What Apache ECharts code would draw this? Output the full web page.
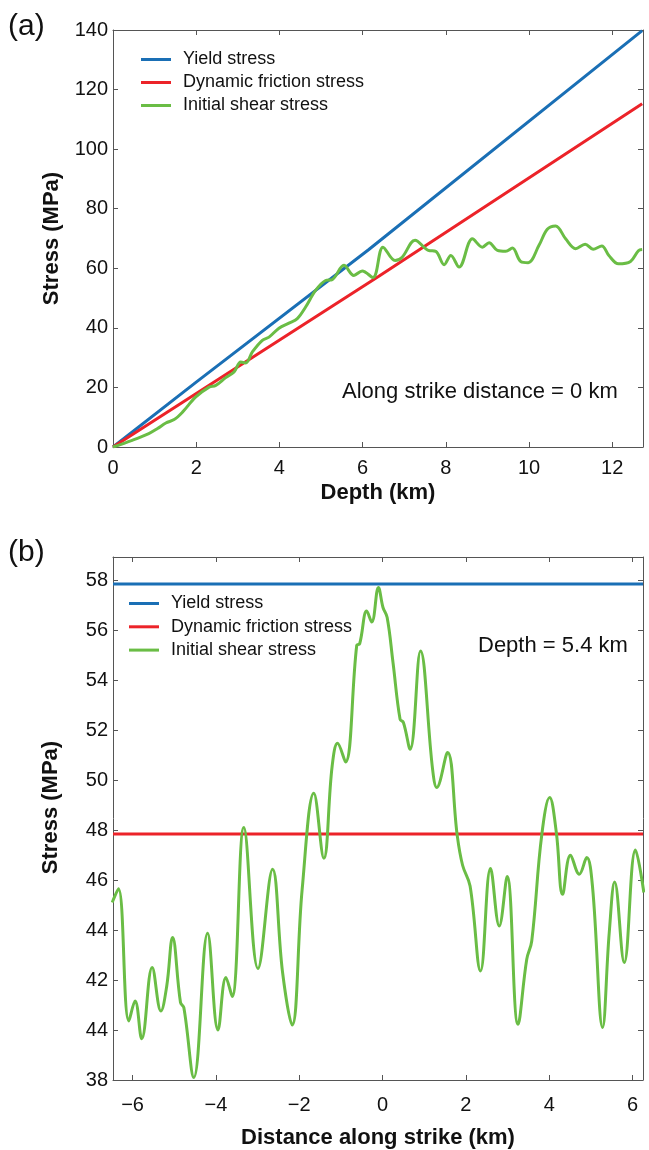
<!DOCTYPE html>
<html>
<head>
<meta charset="utf-8">
<script src="https://cdn.jsdelivr.net/npm/echarts@6/dist/echarts.min.js"></script>
<style>
html,body{margin:0;padding:0;background:#fff;}
#chart{width:649px;height:1150px;}
</style>
</head>
<body>
<div id="chart"></div>
<script>
// ---------- Panel (a): stress vs depth at along-strike distance 0 km ----------
const depthYield = [0, 2, 6.15, 12.72];
const yieldStressA = [0, 21.8, 66.3, 139.8];
const depthFric = [0, 6.39, 12.72];
const fricStressA = [0, 57.3, 115.2];
const depthInit = [0,0.46,0.86,1.07,1.27,1.47,1.67,1.99,2.31,2.47,2.71,2.91,3.07,3.19,3.35,3.59,3.75,3.99,4.23,4.43,4.63,4.87,5.11,5.27,5.55,5.79,5.99,6.25,6.49,6.78,6.95,7.26,7.58,7.76,7.96,8.12,8.32,8.64,8.88,9.04,9.24,9.44,9.6,9.8,9.98,10.24,10.44,10.64,10.88,11.12,11.35,11.54,11.75,11.92,12.15,12.44,12.63,12.72];
const initStressA = [0,2.25,4.5,6.2,8.05,9.2,11.7,16.8,20.1,20.7,23.3,25.2,28.5,28.2,31.9,35.8,36.9,39.9,41.6,43.1,47.0,52.6,55.9,56.2,61.0,57.6,59.1,56.9,67.1,62.6,63.7,69.4,66.0,65.7,61.2,64.3,60.4,69.9,67.1,68.6,66.0,65.7,66.8,62.3,61.9,67.7,73.1,74.2,69.9,66.6,68.1,66.4,67.5,64.3,61.5,62.3,65.9,66.3];

// ---------- Panel (b): stress along strike at depth 5.4 km ----------
const distLines = [-6.47, 6.25];
const yieldStressB = [57.84, 57.84];
const fricStressB = [47.84, 47.84];
const distInit = [-6.49,-6.34,-6.09,-5.94,-5.78,-5.53,-5.32,-5.18,-5.04,-4.85,-4.77,-4.53,-4.2,-3.95,-3.76,-3.61,-3.33,-2.99,-2.64,-2.4,-2.17,-1.93,-1.65,-1.41,-1.21,-1.08,-0.89,-0.62,-0.55,-0.38,-0.26,-0.1,0.01,0.11,0.25,0.42,0.5,0.66,0.91,1.2,1.3,1.56,1.79,1.92,2.1,2.35,2.59,2.8,2.99,3.25,3.46,3.58,3.82,4.01,4.17,4.32,4.51,4.72,4.9,5.04,5.28,5.44,5.57,5.8,6.07,6.27];
const initStressB = [45.1,45.65,40.36,41.16,39.65,42.5,40.76,41.76,43.7,41.1,40.9,38.1,43.87,40.0,42.1,41.34,48.1,42.46,46.43,42.3,40.2,45.63,49.47,46.87,50.56,51.47,50.72,55.39,55.45,56.76,56.32,57.7,56.9,56.5,54.7,52.43,52.3,51.23,55.16,50.43,49.7,51.1,47.8,46.59,45.76,42.36,46.46,44.16,46.14,40.23,42.83,43.56,47.8,49.3,47.9,45.43,46.99,46.23,46.9,45.7,40.1,43.9,45.92,42.7,47.2,45.5];

// tick labels
const yTicksB = [38,40,42,44,46,48,50,52,54,56,58];
const yTickLabelsB = ['38','44','42','44','46','48','50','52','54','56','58'];
const seriesNames = ['Yield stress', 'Dynamic friction stress', 'Initial shear stress'];
const colors = ['#1a6fb5', '#ec2329', '#6abd45'];

function zip(xs, ys) { return xs.map((x, i) => [x, ys[i]]); }

const FONT = "'Liberation Sans', Arial, Helvetica, sans-serif";
const axisColor = '#555';

function frameAxis(extra) {
  return Object.assign({
    type: 'value',
    axisLine: { show: true, onZero: false, lineStyle: { color: axisColor, width: 1 } },
    axisTick: { show: true, inside: true, length: 5, lineStyle: { color: axisColor } },
    splitLine: { show: false },
    axisLabel: { show: false }
  }, extra);
}

const tickLabel = { color: '#111', fontSize: 20, fontFamily: FONT };
const titleStyle = { color: '#111', fontSize: 22, fontWeight: 'bold', fontFamily: FONT };

const option = {
  backgroundColor: '#fff',
  animation: false,
  grid: [
    { left: 113, top: 30, width: 530, height: 417 },
    { left: 113, top: 557, width: 530, height: 523 }
  ],
  xAxis: [
    frameAxis({ gridIndex: 0, position: 'bottom', min: 0, max: 12.74, interval: 2,
      name: 'Depth (km)', nameLocation: 'middle', nameGap: 35, nameTextStyle: titleStyle,
      axisLabel: { show: true, margin: 11, ...tickLabel,
        formatter: v => (Math.abs(v % 2) < 1e-9 ? String(v) : '') } }),
    frameAxis({ gridIndex: 0, position: 'top', min: 0, max: 12.74, interval: 2 }),
    frameAxis({ gridIndex: 1, position: 'bottom', min: -6.47, max: 6.25, splitNumber: 6,
      name: 'Distance along strike (km)', nameLocation: 'middle', nameGap: 47, nameTextStyle: titleStyle,
      axisLabel: { show: true, margin: 15, ...tickLabel,
        formatter: v => (Math.abs(v % 2) < 1e-9 ? String(v).replace('-', '\u2212') : '') } }),
    frameAxis({ gridIndex: 1, position: 'top', min: -6.47, max: 6.25, splitNumber: 6 })
  ],
  yAxis: [
    frameAxis({ gridIndex: 0, position: 'left', min: 0, max: 140, interval: 20,
      name: 'Stress (MPa)', nameLocation: 'middle', nameGap: 50, nameTextStyle: titleStyle,
      axisLabel: { show: true, margin: 5, ...tickLabel } }),
    frameAxis({ gridIndex: 0, position: 'right', min: 0, max: 140, interval: 20 }),
    frameAxis({ gridIndex: 1, position: 'left', min: 38, max: 58.92, interval: 2,
      name: 'Stress (MPa)', nameLocation: 'middle', nameGap: 51,
      nameTextStyle: Object.assign({}, titleStyle, { padding: [0, 0, 0, 22] }),
      axisLabel: { show: true, margin: 5, ...tickLabel,
        formatter: v => { const i = yTicksB.findIndex(t => Math.abs(t - v) < 1e-6); return i >= 0 ? yTickLabelsB[i] : ''; } } }),
    frameAxis({ gridIndex: 1, position: 'right', min: 38, max: 58.92, interval: 2 })
  ],
  legend: [
    { orient: 'vertical', left: 141, top: 50.5, padding: 0, itemGap: 5, itemWidth: 30, itemHeight: 3,
      icon: 'rect', data: seriesNames,
      textStyle: { color: '#111', fontSize: 18, lineHeight: 18, fontFamily: FONT, padding: [0, 0, 0, 7] } },
    { orient: 'vertical', left: 129, top: 594.5, padding: 0, itemGap: 5.3, itemWidth: 30, itemHeight: 3,
      icon: 'rect', data: seriesNames,
      textStyle: { color: '#111', fontSize: 18, lineHeight: 18, fontFamily: FONT, padding: [0, 0, 0, 7] } }
  ],
  graphic: [
    { type: 'text', left: 8, top: 12, style: { text: '(a)', font: '30px ' + FONT, fill: '#111' } },
    { type: 'text', left: 8, top: 538, style: { text: '(b)', font: '30px ' + FONT, fill: '#111' } },
    { type: 'text', left: 342, top: 381, style: { text: 'Along strike distance = 0 km', font: '22px ' + FONT, fill: '#111' } },
    { type: 'text', left: 478, top: 635, style: { text: 'Depth = 5.4 km', font: '22px ' + FONT, fill: '#111' } }
  ],
  series: [
    { name: seriesNames[0], type: 'line', xAxisIndex: 0, yAxisIndex: 0, data: zip(depthYield, yieldStressA),
      showSymbol: false, lineStyle: { width: 3, color: colors[0] }, itemStyle: { color: colors[0] }, z: 3 },
    { name: seriesNames[1], type: 'line', xAxisIndex: 0, yAxisIndex: 0, data: zip(depthFric, fricStressA),
      showSymbol: false, lineStyle: { width: 3, color: colors[1] }, itemStyle: { color: colors[1] }, z: 3 },
    { name: seriesNames[2], type: 'line', xAxisIndex: 0, yAxisIndex: 0, data: zip(depthInit, initStressA),
      showSymbol: false, smooth: 0.35, lineStyle: { width: 3, color: colors[2] }, itemStyle: { color: colors[2] }, z: 4 },
    { name: seriesNames[0], type: 'line', xAxisIndex: 2, yAxisIndex: 2, data: zip(distLines, yieldStressB),
      showSymbol: false, lineStyle: { width: 3, color: colors[0] }, itemStyle: { color: colors[0] }, z: 3 },
    { name: seriesNames[1], type: 'line', xAxisIndex: 2, yAxisIndex: 2, data: zip(distLines, fricStressB),
      showSymbol: false, lineStyle: { width: 3, color: colors[1] }, itemStyle: { color: colors[1] }, z: 3 },
    { name: seriesNames[2], type: 'line', xAxisIndex: 2, yAxisIndex: 2, data: zip(distInit, initStressB),
      showSymbol: false, smooth: 0.4, clip: true, lineStyle: { width: 3, color: colors[2] }, itemStyle: { color: colors[2] }, z: 4 }
  ]
};

const chart = echarts.init(document.getElementById('chart'), null, { renderer: 'canvas' });
chart.setOption(option);
</script>
</body>
</html>
